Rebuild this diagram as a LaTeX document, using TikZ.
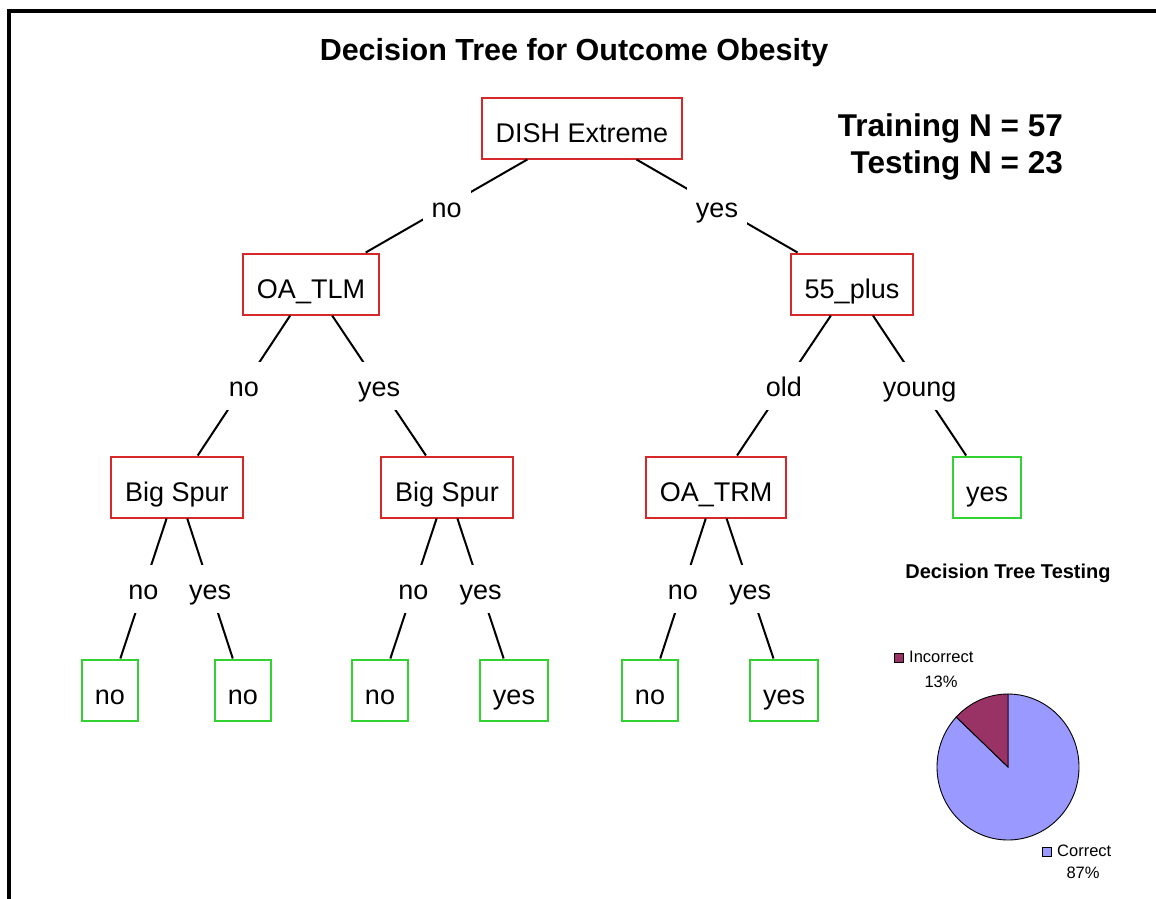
\documentclass[tikz,border=0pt]{standalone}
\usepackage{fontspec}
\setmainfont{Liberation Sans}
\usepackage{tikz}
\usetikzlibrary{shapes.geometric, arrows}
\usepackage{xcolor}
\definecolor{splitRed}{RGB}{214, 40, 40}
\definecolor{leafGreen}{RGB}{50, 210, 50}
\definecolor{pieMagenta}{RGB}{153, 51, 102}
\definecolor{pieLavender}{RGB}{153, 153, 255}

\begin{document}
\begin{tikzpicture}
    [
		x=1pt, y=1pt,
		node distance=203pt,
		split/.style={
			draw=splitRed, line width=2pt, rectangle, minimum height=61pt,
			text height=28pt, text depth=0pt,
			inner xsep=14pt, fill=white, font=\fontsize{27}{32}\selectfont
		},
		leaf/.style={
			draw=leafGreen, line width=2pt, rectangle, minimum height=61pt,
			text height=28pt, text depth=0pt,
			inner xsep=13pt, fill=white, font=\fontsize{27}{32}\selectfont
		},
		branch/.style={
			fill=white, inner xsep=9pt, minimum height=48pt,
			text height=22pt, text depth=0pt,
			font=\fontsize{27}{32}\selectfont
		},
		edge/.style={
			draw=black, line width=2pt
		},
		swatch/.style={
			draw=black, line width=0.6pt, minimum size=9pt, inner sep=0pt
		},
		legend/.style={
			inner sep=0pt, font=\fontsize{16.5}{20}\selectfont
		}
	]

\useasboundingbox (0, 0) rectangle (1156, -899);

% Frame
\draw [line width=4pt] (9, -899) -- (9, -11) -- (1156, -11);

% Titles
\node (title) [anchor=base, font=\bfseries\fontsize{30.5}{36}\selectfont]
	at (574, -60) {Decision Tree for Outcome Obesity};
\node (sizes) [anchor=north east, align=right, inner sep=0pt,
	font=\bfseries\fontsize{31.5}{37}\selectfont]
	at (1063, -113) {Training N = 57\\Testing N = 23};

% Nodes
\node (dish) [split] at (582, -128) {DISH Extreme};
\node (oatlm) [split, node distance=156pt, below of=dish, xshift=-271pt] {OA\_TLM};
\node (plus) [split, node distance=156pt, below of=dish, xshift=270pt] {55\_plus};
\node (spurL) [split, below of=oatlm, xshift=-134pt] {Big Spur};
\node (spurR) [split, below of=oatlm, xshift=136pt] {Big Spur};
\node (oatrm) [split, below of=plus, xshift=-136pt] {OA\_TRM};
\node (young) [leaf, below of=plus, xshift=135pt] {yes};
\node (leafA) [leaf, below of=spurL, xshift=-67pt] {no};
\node (leafB) [leaf, below of=spurL, xshift=66pt] {no};
\node (leafC) [leaf, below of=spurR, xshift=-67pt] {no};
\node (leafD) [leaf, below of=spurR, xshift=67pt] {yes};
\node (leafE) [leaf, below of=oatrm, xshift=-66pt] {no};
\node (leafF) [leaf, below of=oatrm, xshift=68pt] {yes};

% Branches
\draw [edge]
	(dish) to node [branch]
	{no} (oatlm);
\draw [edge]
	(dish) to node [branch]
	{yes} (plus);

\draw [edge]
	(oatlm) to node [branch]
	{no} (spurL);
\draw [edge]
	(oatlm) to node [branch]
	{yes} (spurR);

\draw [edge]
	(plus) to node [branch]
	{old} (oatrm);
\draw [edge]
	(plus) to node [branch]
	{young} (young);

\draw [edge]
	(spurL) to node [branch]
	{no} (leafA);
\draw [edge]
	(spurL) to node [branch]
	{yes} (leafB);

\draw [edge]
	(spurR) to node [branch]
	{no} (leafC);
\draw [edge]
	(spurR) to node [branch]
	{yes} (leafD);

\draw [edge]
	(oatrm) to node [branch]
	{no} (leafE);
\draw [edge]
	(oatrm) to node [branch]
	{yes} (leafF);

% Pie chart
\node (pietitle) [anchor=base, font=\bfseries\fontsize{20}{24}\selectfont]
	at (1008, -578) {Decision Tree Testing};
\coordinate (pie) at (1008, -767);
\filldraw [fill=pieLavender, line width=0.9pt]
	(pie) -- ++(136.8:71pt and 73pt)
	arc [start angle=136.8, end angle=450, x radius=71pt, y radius=73pt] -- cycle;
\filldraw [fill=pieMagenta, line width=0.9pt]
	(pie) -- ++(0, 73)
	arc [start angle=90, end angle=136.8, x radius=71pt, y radius=73pt] -- cycle;

% Legend
\node (incKey) [swatch, fill=pieMagenta] at (898.5, -658) {};
\node (incText) [legend, anchor=west] at (909, -657) {Incorrect};
\node (incPct) [legend] at (941, -681.5) {13\%};
\node (corKey) [swatch, fill=pieLavender] at (1047, -852) {};
\node (corText) [legend, anchor=west] at (1057, -851) {Correct};
\node (corPct) [legend] at (1083, -873) {87\%};

\end{tikzpicture}
\end{document}
